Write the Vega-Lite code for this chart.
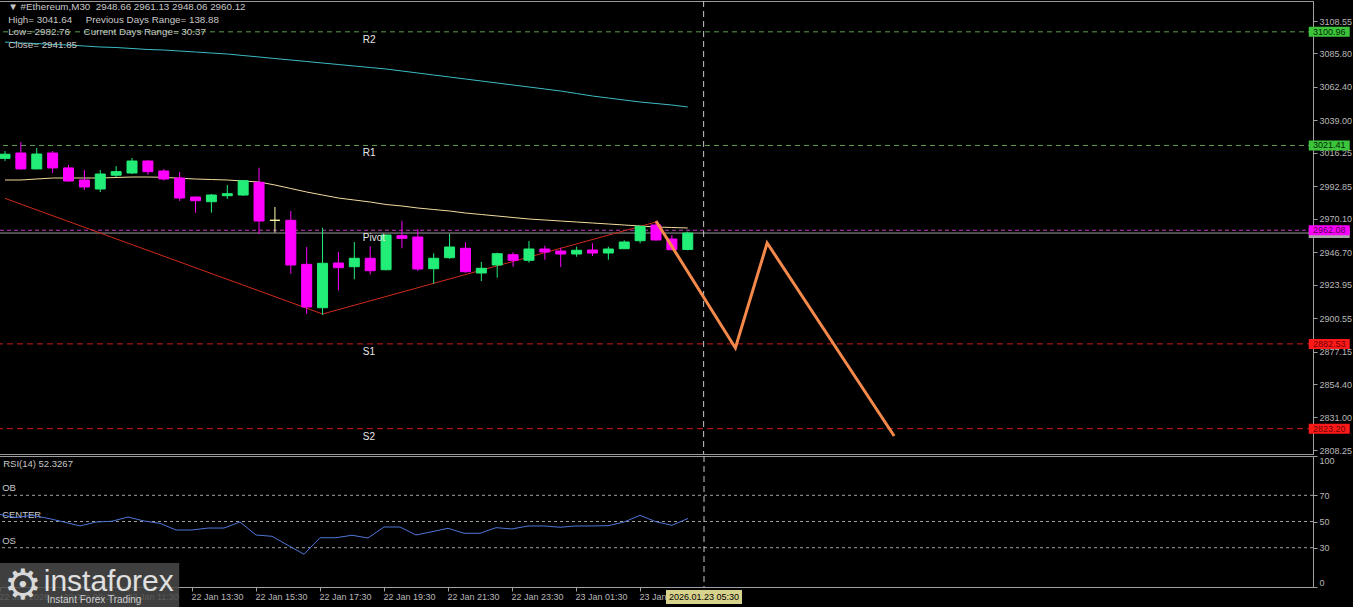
{
  "$schema": "https://vega.github.io/schema/vega-lite/v6.json",
  "background": "#000000",
  "padding": {"left": -2, "top": 0, "right": 0, "bottom": 0},
  "spacing": 2,
  "bounds": "flush",
  "datasets": {
    "candles": [
      {"t":"2026-01-22T07:30:00Z","o":3012.4,"h":3017.5,"l":3010.6,"c":3015.3,"ma":2997.25,"ma2":3093.85,"rsi":55.3},
      {"t":"2026-01-22T08:00:00Z","o":3016.15,"h":3023.85,"l":3004.5,"c":3005.0,"ma":2997.25,"ma2":3093.15,"rsi":53.1},
      {"t":"2026-01-22T08:30:00Z","o":3005.0,"h":3019.6,"l":3004.8,"c":3015.45,"ma":2997.95,"ma2":3092.8,"rsi":54.7},
      {"t":"2026-01-22T09:00:00Z","o":3016.15,"h":3017.55,"l":3002.15,"c":3005.7,"ma":2998.65,"ma2":3092.1,"rsi":52.4},
      {"t":"2026-01-22T09:30:00Z","o":3005.7,"h":3007.75,"l":2996.0,"c":2996.55,"ma":2998.65,"ma2":3091.75,"rsi":49.6},
      {"t":"2026-01-22T10:00:00Z","o":2997.25,"h":3004.25,"l":2990.25,"c":2992.35,"ma":2998.65,"ma2":3091.05,"rsi":46.6},
      {"t":"2026-01-22T10:30:00Z","o":2990.95,"h":3004.25,"l":2988.85,"c":3001.45,"ma":2998.65,"ma2":3090.35,"rsi":49.6},
      {"t":"2026-01-22T11:00:00Z","o":3000.6,"h":3007.0,"l":2999.35,"c":3003.1,"ma":2999.0,"ma2":3090.0,"rsi":50.2},
      {"t":"2026-01-22T11:30:00Z","o":3002.15,"h":3012.65,"l":3001.45,"c":3010.55,"ma":2999.35,"ma2":3089.3,"rsi":53.4},
      {"t":"2026-01-22T12:00:00Z","o":3010.55,"h":3011.25,"l":3000.95,"c":3003.05,"ma":2999.35,"ma2":3088.6,"rsi":50.4},
      {"t":"2026-01-22T12:30:00Z","o":3003.55,"h":3004.95,"l":2996.75,"c":2997.95,"ma":2999.15,"ma2":3088.25,"rsi":48.6},
      {"t":"2026-01-22T13:00:00Z","o":2998.65,"h":3002.85,"l":2982.55,"c":2984.65,"ma":2998.45,"ma2":3087.55,"rsi":43.5},
      {"t":"2026-01-22T13:30:00Z","o":2985.35,"h":2985.6,"l":2974.4,"c":2982.75,"ma":2997.95,"ma2":3086.85,"rsi":43.5},
      {"t":"2026-01-22T14:00:00Z","o":2982.05,"h":2987.45,"l":2974.4,"c":2986.75,"ma":2997.6,"ma2":3086.15,"rsi":45.0},
      {"t":"2026-01-22T14:30:00Z","o":2986.25,"h":2993.75,"l":2983.95,"c":2987.65,"ma":2997.25,"ma2":3085.45,"rsi":45.0},
      {"t":"2026-01-22T15:00:00Z","o":2986.75,"h":2997.0,"l":2986.05,"c":2996.75,"ma":2996.55,"ma2":3084.4,"rsi":49.6},
      {"t":"2026-01-22T15:30:00Z","o":2995.65,"h":3005.85,"l":2959.45,"c":2968.55,"ma":2995.85,"ma2":3083.35,"rsi":39.7},
      {"t":"2026-01-22T16:00:00Z","o":2969.05,"h":2978.35,"l":2960.4,"c":2969.05,"ma":2993.75,"ma2":3082.3,"rsi":38.7},
      {"t":"2026-01-22T16:30:00Z","o":2969.05,"h":2975.55,"l":2931.65,"c":2937.75,"ma":2991.3,"ma2":3081.25,"rsi":31.8},
      {"t":"2026-01-22T17:00:00Z","o":2938.2,"h":2950.35,"l":2903.45,"c":2908.35,"ma":2988.85,"ma2":3080.2,"rsi":25.0},
      {"t":"2026-01-22T17:30:00Z","o":2907.85,"h":2963.85,"l":2902.75,"c":2938.95,"ma":2986.75,"ma2":3079.15,"rsi":37.6},
      {"t":"2026-01-22T18:00:00Z","o":2939.15,"h":2946.85,"l":2920.0,"c":2935.85,"ma":2984.65,"ma2":3078.1,"rsi":37.6},
      {"t":"2026-01-22T18:30:00Z","o":2936.55,"h":2953.85,"l":2927.75,"c":2942.45,"ma":2983.25,"ma2":3077.05,"rsi":39.5},
      {"t":"2026-01-22T19:00:00Z","o":2942.45,"h":2950.85,"l":2931.25,"c":2933.75,"ma":2981.85,"ma2":3076.0,"rsi":37.4},
      {"t":"2026-01-22T19:30:00Z","o":2934.45,"h":2959.0,"l":2934.0,"c":2958.75,"ma":2980.1,"ma2":3074.95,"rsi":45.8},
      {"t":"2026-01-22T20:00:00Z","o":2958.25,"h":2968.55,"l":2949.45,"c":2956.45,"ma":2979.05,"ma2":3073.55,"rsi":45.8},
      {"t":"2026-01-22T20:30:00Z","o":2957.35,"h":2962.75,"l":2933.55,"c":2934.95,"ma":2977.65,"ma2":3072.15,"rsi":39.7},
      {"t":"2026-01-22T21:00:00Z","o":2935.15,"h":2945.95,"l":2924.65,"c":2942.45,"ma":2976.6,"ma2":3070.75,"rsi":42.2},
      {"t":"2026-01-22T21:30:00Z","o":2942.85,"h":2959.65,"l":2942.0,"c":2950.35,"ma":2975.55,"ma2":3069.35,"rsi":44.8},
      {"t":"2026-01-22T22:00:00Z","o":2949.45,"h":2953.65,"l":2932.35,"c":2933.05,"ma":2974.15,"ma2":3067.95,"rsi":41.0},
      {"t":"2026-01-22T22:30:00Z","o":2932.15,"h":2939.85,"l":2926.55,"c":2935.45,"ma":2973.1,"ma2":3066.55,"rsi":41.0},
      {"t":"2026-01-22T23:00:00Z","o":2937.75,"h":2946.35,"l":2928.85,"c":2945.65,"ma":2972.05,"ma2":3065.15,"rsi":45.3},
      {"t":"2026-01-22T23:30:00Z","o":2944.95,"h":2946.65,"l":2936.55,"c":2941.05,"ma":2971.0,"ma2":3063.75,"rsi":44.3},
      {"t":"2026-01-23T00:00:00Z","o":2941.05,"h":2954.55,"l":2939.35,"c":2948.95,"ma":2969.95,"ma2":3062.35,"rsi":46.6},
      {"t":"2026-01-23T00:30:00Z","o":2948.95,"h":2951.25,"l":2941.45,"c":2946.85,"ma":2969.25,"ma2":3060.95,"rsi":46.6},
      {"t":"2026-01-23T01:00:00Z","o":2947.55,"h":2949.85,"l":2936.35,"c":2945.45,"ma":2968.55,"ma2":3059.55,"rsi":45.6},
      {"t":"2026-01-23T01:30:00Z","o":2945.45,"h":2950.55,"l":2943.55,"c":2948.05,"ma":2967.85,"ma2":3057.8,"rsi":46.6},
      {"t":"2026-01-23T02:00:00Z","o":2948.25,"h":2952.95,"l":2944.05,"c":2946.15,"ma":2967.15,"ma2":3056.05,"rsi":46.6},
      {"t":"2026-01-23T02:30:00Z","o":2946.15,"h":2950.55,"l":2941.45,"c":2948.95,"ma":2966.45,"ma2":3054.65,"rsi":46.8},
      {"t":"2026-01-23T03:00:00Z","o":2949.15,"h":2955.05,"l":2949.0,"c":2953.85,"ma":2965.75,"ma2":3053.25,"rsi":49.6},
      {"t":"2026-01-23T03:30:00Z","o":2954.75,"h":2965.05,"l":2952.95,"c":2964.85,"ma":2965.05,"ma2":3051.85,"rsi":54.7},
      {"t":"2026-01-23T04:00:00Z","o":2965.75,"h":2968.55,"l":2955.0,"c":2955.25,"ma":2964.35,"ma2":3050.8,"rsi":49.8},
      {"t":"2026-01-23T04:30:00Z","o":2955.95,"h":2958.75,"l":2948.05,"c":2948.45,"ma":2964.0,"ma2":3049.75,"rsi":47.1},
      {"t":"2026-01-23T05:00:00Z","o":2948.66,"h":2961.13,"l":2948.06,"c":2960.12,"ma":2963.65,"ma2":3048.35,"rsi":52.33}
    ],
    "trend": [
      {"t":"2026-01-22T07:30:00Z","p":2984.4},
      {"t":"2026-01-22T17:30:00Z","p":2903.45},
      {"t":"2026-01-23T04:00:00Z","p":2967.85}
    ],
    "forecast": [
      {"t":"2026-01-23T04:00:00Z","p":2968.55},
      {"t":"2026-01-23T06:30:00Z","p":2879.65},
      {"t":"2026-01-23T07:30:00Z","p":2953.15},
      {"t":"2026-01-23T11:30:00Z","p":2818.05}
    ],
    "levels": [
      {"name":"Bid","value":2960.12},
      {"name":"R2","value":3100.96},
      {"name":"R1","value":3021.41},
      {"name":"Pivot","value":2962.08},
      {"name":"S1","value":2882.53},
      {"name":"S2","value":2823.20}
    ],
    "rsilevels": [
      {"name":"OB","v":70},
      {"name":"CENTER","v":50},
      {"name":"OS","v":30}
    ],
    "now": [
      {"t":"2026-01-23T05:30:00Z","label":"2026.01.23 05:30"}
    ]
  },
  "vconcat": [
    {
      "width": 1314,
      "height": 453,
      "layer": [
        {
          "data": {"name": "levels"},
          "mark": {"type": "rule", "strokeWidth": 1},
          "encoding": {
            "y": {"field": "value", "type": "quantitative",
              "scale": {"domain": [2805.45, 3122.55], "nice": false, "zero": false},
              "axis": {"orient": "right", "title": null, "tickCount": 40, "values": [3108.55, 3085.8, 3062.4, 3039.0, 3016.25, 2992.85, 2970.1, 2946.7, 2923.95, 2900.55, 2877.15, 2854.4, 2831.0, 2808.25], "format": ".2f", "tickSize": 4, "labelPadding": 2, "labelOverlap": false, "labelBound": false, "labelFlush": false, "grid": false}},
            "stroke": {"field": "name", "type": "nominal", "legend": null,
              "scale": {"domain": ["Bid", "R2", "R1", "Pivot", "S1", "S2"], "range": ["#9a9a9a", "#5c9e4c", "#5c9e4c", "#c040c0", "#d01818", "#d01818"]}},
            "strokeDash": {"field": "name", "type": "nominal", "legend": null,
              "scale": {"domain": ["Bid", "R2", "R1", "Pivot", "S1", "S2"], "range": [[1, 0], [5, 4], [5, 4], [4, 3], [6, 4], [6, 4]]}}
          }
        },
        {
          "data": {"name": "candles"},
          "mark": {"type": "line", "stroke": "#3cbcc4", "strokeWidth": 1, "clip": true},
          "encoding": {
            "x": {"field": "t", "type": "temporal", "axis": null,
              "scale": {"type": "utc", "nice": false, "domain": [{"year": 2026, "month": 1, "date": 22, "hours": 7, "minutes": 28, "seconds": 7, "milliseconds": 500, "utc": true}, {"year": 2026, "month": 1, "date": 24, "hours": 0, "minutes": 31, "seconds": 52, "milliseconds": 500, "utc": true}]}},
            "y": {"field": "ma2", "type": "quantitative"}
          }
        },
        {
          "data": {"name": "candles"},
          "mark": {"type": "line", "stroke": "#f2dca0", "strokeWidth": 1, "clip": true},
          "encoding": {
            "x": {"field": "t", "type": "temporal"},
            "y": {"field": "ma", "type": "quantitative"}
          }
        },
        {
          "data": {"name": "trend"},
          "mark": {"type": "line", "stroke": "#d02a1a", "strokeWidth": 1, "clip": true},
          "encoding": {
            "x": {"field": "t", "type": "temporal"},
            "y": {"field": "p", "type": "quantitative"}
          }
        },
        {
          "data": {"name": "now"},
          "mark": {"type": "rule", "stroke": "#c8c8c8", "strokeDash": [6, 4], "strokeWidth": 1},
          "encoding": {
            "x": {"field": "t", "type": "temporal"}
          }
        },
        {
          "data": {"name": "candles"},
          "mark": {"type": "rule", "strokeWidth": 1, "clip": true},
          "encoding": {
            "x": {"field": "t", "type": "temporal"},
            "y": {"field": "l", "type": "quantitative"},
            "y2": {"field": "h"},
            "color": {"condition": [{"test": "datum.c > datum.o", "value": "#22ee77"}, {"test": "datum.c == datum.o", "value": "#ffffb0"}], "value": "#ff00ff"}
          }
        },
        {
          "data": {"name": "candles"},
          "mark": {"type": "bar", "size": 10, "strokeWidth": 1, "clip": true},
          "encoding": {
            "x": {"field": "t", "type": "temporal"},
            "y": {"field": "o", "type": "quantitative"},
            "y2": {"field": "c"},
            "color": {"condition": [{"test": "datum.c > datum.o", "value": "#22ee77"}, {"test": "datum.c == datum.o", "value": "#ffffb0"}], "value": "#ff00ff"},
            "stroke": {"condition": [{"test": "datum.c > datum.o", "value": "#22ee77"}, {"test": "datum.c == datum.o", "value": "#ffffb0"}], "value": "#ff00ff"}
          }
        },
        {
          "data": {"name": "forecast"},
          "mark": {"type": "line", "stroke": "#f5894b", "strokeWidth": 3, "clip": true},
          "encoding": {
            "x": {"field": "t", "type": "temporal"},
            "y": {"field": "p", "type": "quantitative"}
          }
        },
        {
          "data": {"name": "levels"},
          "transform": [{"filter": "datum.name != 'Bid'"}],
          "mark": {"type": "text", "align": "left", "baseline": "top", "dy": 3, "fontSize": 10, "color": "#e8e8e8"},
          "encoding": {
            "x": {"datum": {"year": 2026, "month": 1, "date": 22, "hours": 18, "minutes": 46, "utc": true}, "type": "temporal"},
            "y": {"field": "value", "type": "quantitative"},
            "text": {"field": "name"}
          }
        },
        {
          "data": {"values": [{}]},
          "mark": {"type": "text", "align": "left", "baseline": "top", "dy": 1, "lineHeight": 12.5, "fontSize": 9.8, "color": "#c8c8c8"},
          "encoding": {
            "x": {"datum": {"year": 2026, "month": 1, "date": 22, "hours": 7, "minutes": 36, "utc": true}, "type": "temporal"},
            "y": {"datum": 3122.55, "type": "quantitative"},
            "text": {"value": ["▼ #Ethereum,M30\u00a0\u00a02948.66 2961.13 2948.06 2960.12", "High= 3041.64\u00a0\u00a0\u00a0\u00a0\u00a0Previous Days Range= 138.88", "Low= 2982.76\u00a0\u00a0\u00a0\u00a0\u00a0Current Days Range= 30.37", "Close= 2941.85"]}
          }
        },
        {
          "data": {"name": "levels"},
          "mark": {"type": "tick", "orient": "horizontal", "size": 41, "thickness": 10, "opacity": 1},
          "encoding": {
            "x": {"datum": {"year": 2026, "month": 1, "date": 24, "hours": 1, "minutes": 12, "utc": true}, "type": "temporal"},
            "y": {"field": "value", "type": "quantitative"},
            "fill": {"field": "name", "type": "nominal", "legend": null,
              "scale": {"domain": ["Bid", "R2", "R1", "Pivot", "S1", "S2"], "range": ["#a8a8a8", "#3cc43c", "#3cc43c", "#ff00ff", "#ff1a1a", "#ff1a1a"]}}
          }
        },
        {
          "data": {"name": "levels"},
          "transform": [{"filter": "datum.name != 'Bid'"}],
          "mark": {"type": "text", "align": "center", "baseline": "middle", "fontSize": 9},
          "encoding": {
            "x": {"datum": {"year": 2026, "month": 1, "date": 24, "hours": 1, "minutes": 12, "utc": true}, "type": "temporal"},
            "y": {"field": "value", "type": "quantitative"},
            "text": {"field": "value", "format": ".2f"},
            "color": {"field": "name", "type": "nominal", "legend": null,
              "scale": {"domain": ["R2", "R1", "Pivot", "S1", "S2"], "range": ["#002800", "#002800", "#500050", "#700000", "#700000"]}}
          }
        }
      ]
    },
    {
      "width": 1314,
      "height": 131,
      "layer": [
        {
          "data": {"name": "rsilevels"},
          "mark": {"type": "rule", "stroke": "#a0a0a0", "strokeDash": [3, 3], "strokeWidth": 1},
          "encoding": {
            "y": {"field": "v", "type": "quantitative",
              "scale": {"domain": [0, 100], "nice": false, "zero": false},
              "axis": {"orient": "right", "title": null, "tickCount": 20, "values": [0, 30, 50, 70, 100], "tickSize": 4, "labelPadding": 2, "labelFlush": true, "labelOverlap": false, "grid": false}}
          }
        },
        {
          "data": {"name": "rsilevels"},
          "mark": {"type": "text", "align": "left", "baseline": "bottom", "dy": -2, "fontSize": 9.5, "color": "#c8c8c8"},
          "encoding": {
            "x": {"datum": {"year": 2026, "month": 1, "date": 22, "hours": 7, "minutes": 34, "utc": true}, "type": "temporal"},
            "y": {"field": "v", "type": "quantitative"},
            "text": {"field": "name"}
          }
        },
        {
          "data": {"name": "candles"},
          "mark": {"type": "line", "stroke": "#4f75d8", "strokeWidth": 1, "clip": true},
          "encoding": {
            "x": {"field": "t", "type": "temporal",
              "scale": {"type": "utc", "nice": false, "domain": [{"year": 2026, "month": 1, "date": 22, "hours": 7, "minutes": 28, "seconds": 7, "milliseconds": 500, "utc": true}, {"year": 2026, "month": 1, "date": 24, "hours": 0, "minutes": 31, "seconds": 52, "milliseconds": 500, "utc": true}]},
              "axis": {"title": null, "grid": false, "tickCount": 40, "tickSize": 4, "labelAlign": "left", "labelBaseline": "top", "labelPadding": 1, "labelOffset": -1, "labelOverlap": false, "labelBound": false, "labelFlush": false,
                "values": [
                  {"year": 2026, "month": 1, "date": 22, "hours": 7, "minutes": 30, "utc": true},
                  {"year": 2026, "month": 1, "date": 22, "hours": 9, "minutes": 30, "utc": true},
                  {"year": 2026, "month": 1, "date": 22, "hours": 11, "minutes": 30, "utc": true},
                  {"year": 2026, "month": 1, "date": 22, "hours": 13, "minutes": 30, "utc": true},
                  {"year": 2026, "month": 1, "date": 22, "hours": 15, "minutes": 30, "utc": true},
                  {"year": 2026, "month": 1, "date": 22, "hours": 17, "minutes": 30, "utc": true},
                  {"year": 2026, "month": 1, "date": 22, "hours": 19, "minutes": 30, "utc": true},
                  {"year": 2026, "month": 1, "date": 22, "hours": 21, "minutes": 30, "utc": true},
                  {"year": 2026, "month": 1, "date": 22, "hours": 23, "minutes": 30, "utc": true},
                  {"year": 2026, "month": 1, "date": 23, "hours": 1, "minutes": 30, "utc": true},
                  {"year": 2026, "month": 1, "date": 23, "hours": 3, "minutes": 30, "utc": true}
                ],
                "labelExpr": "utchours(datum.value) == 7 && utcdate(datum.value) == 22 ? utcFormat(datum.value, '%d %b %Y') : utcFormat(datum.value, '%d %b %H:%M')"}},
            "y": {"field": "rsi", "type": "quantitative"}
          }
        },
        {
          "data": {"name": "now"},
          "mark": {"type": "rule", "stroke": "#c8c8c8", "strokeDash": [6, 4], "strokeWidth": 1},
          "encoding": {
            "x": {"field": "t", "type": "temporal"}
          }
        },
        {
          "data": {"values": [{}]},
          "mark": {"type": "text", "align": "left", "baseline": "top", "dy": 3, "fontSize": 9.5, "color": "#c8c8c8"},
          "encoding": {
            "x": {"datum": {"year": 2026, "month": 1, "date": 22, "hours": 7, "minutes": 36, "utc": true}, "type": "temporal"},
            "y": {"datum": 100, "type": "quantitative"},
            "text": {"value": "RSI(14) 52.3267"}
          }
        },
        {
          "data": {"name": "now"},
          "mark": {"type": "tick", "orient": "horizontal", "size": 76, "thickness": 14, "opacity": 1, "fill": "#d8d38c"},
          "encoding": {
            "x": {"field": "t", "type": "temporal"},
            "y": {"datum": -7.6, "type": "quantitative"}
          }
        },
        {
          "data": {"name": "now"},
          "mark": {"type": "text", "align": "center", "baseline": "middle", "fontSize": 9, "color": "#000000"},
          "encoding": {
            "x": {"field": "t", "type": "temporal"},
            "y": {"datum": -7.6, "type": "quantitative"},
            "text": {"field": "label"}
          }
        },
        {
          "data": {"values": [{}]},
          "mark": {"type": "rect", "fill": "#4a4a4a", "opacity": 0.85},
          "encoding": {
            "x": {"datum": {"year": 2026, "month": 1, "date": 22, "hours": 7, "minutes": 28, "seconds": 8, "utc": true}, "type": "temporal"},
            "x2": {"datum": {"year": 2026, "month": 1, "date": 22, "hours": 13, "minutes": 6, "utc": true}},
            "y": {"datum": 18.3, "type": "quantitative"},
            "y2": {"datum": -16}
          }
        },
        {
          "data": {"values": [{}]},
          "mark": {"type": "text", "align": "center", "baseline": "middle", "font": "DejaVu Sans", "fontSize": 42, "color": "#d8d8d8"},
          "encoding": {
            "x": {"datum": {"year": 2026, "month": 1, "date": 22, "hours": 8, "minutes": 13, "utc": true}, "type": "temporal"},
            "y": {"datum": 0.8, "type": "quantitative"},
            "text": {"value": "⚙"}
          }
        },
        {
          "data": {"values": [{}]},
          "mark": {"type": "text", "align": "left", "baseline": "alphabetic", "fontSize": 30, "color": "#e0e0e0"},
          "encoding": {
            "x": {"datum": {"year": 2026, "month": 1, "date": 22, "hours": 8, "minutes": 52, "utc": true}, "type": "temporal"},
            "y": {"datum": -3, "type": "quantitative"},
            "text": {"value": "instaforex"}
          }
        },
        {
          "data": {"values": [{}]},
          "mark": {"type": "text", "align": "left", "baseline": "alphabetic", "fontSize": 10, "color": "#d0d0d0"},
          "encoding": {
            "x": {"datum": {"year": 2026, "month": 1, "date": 22, "hours": 8, "minutes": 58, "utc": true}, "type": "temporal"},
            "y": {"datum": -12.2, "type": "quantitative"},
            "text": {"value": "Instant Forex Trading"}
          }
        }
      ]
    }
  ],
  "resolve": {"scale": {"x": "independent", "y": "independent"}},
  "config": {
    "font": "Liberation Sans",
    "view": {"stroke": "#9a9a9a", "strokeWidth": 1},
    "axis": {"domainColor": "#a0a0a0", "tickColor": "#a0a0a0", "labelColor": "#b8b8b8", "labelFont": "Liberation Sans", "labelFontSize": 9, "grid": false},
    "text": {"font": "Liberation Sans"}
  }
}
